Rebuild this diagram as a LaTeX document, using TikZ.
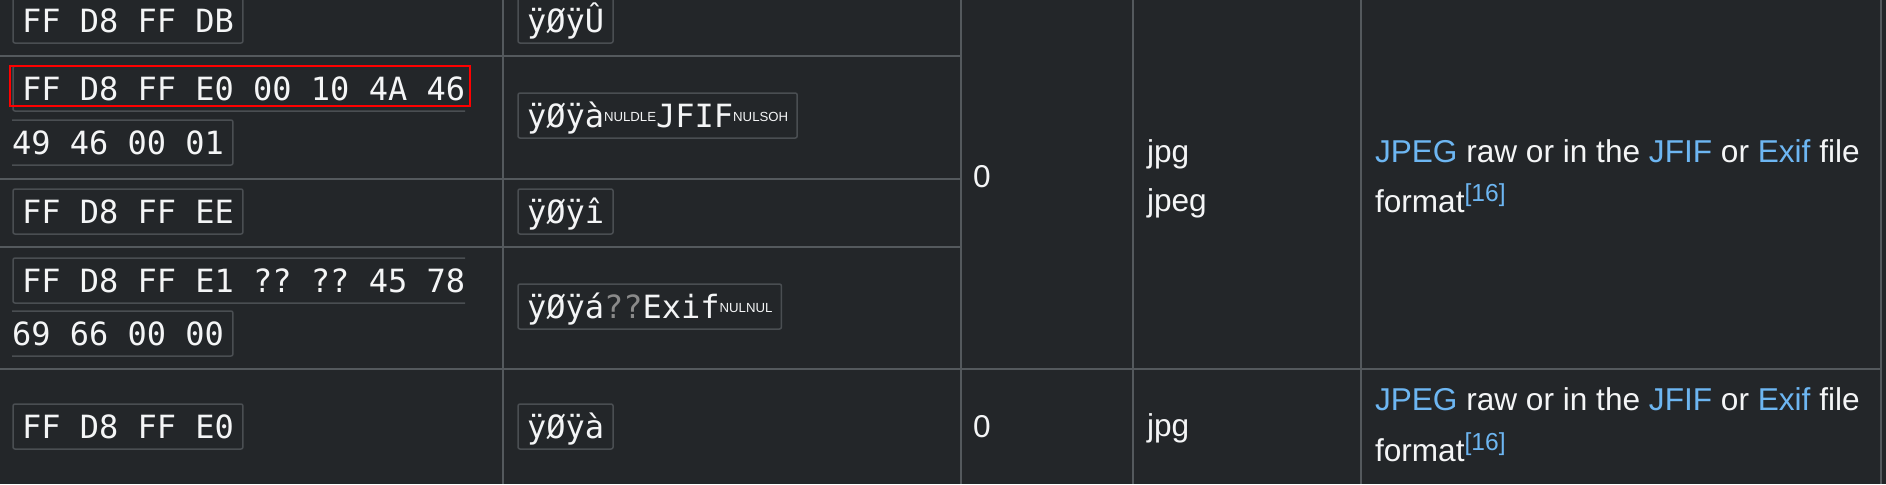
\documentclass[tikz,border=0pt]{standalone}
\usepackage{fontspec}
\setmainfont{Liberation Sans}
\setmonofont{DejaVu Sans Mono}
\newfontfamily\ctlfont{Liberation Sans}

\definecolor{tablebg}{HTML}{232629}
\definecolor{rule}{HTML}{54595D}
\definecolor{codeframe}{HTML}{4A4E52}
\definecolor{ink}{HTML}{F4F5F6}
\definecolor{link}{HTML}{6DB6F2}
\definecolor{dimq}{HTML}{8A8A8A}

\newcommand\ctl[1]{\raisebox{2.6pt}{\ctlfont\fontsize{6.6}{6.6}\selectfont #1}}
\newcommand\lnk[1]{\textcolor{link}{#1}}
\newcommand\refmark[1]{\raisebox{5.2pt}{\fontsize{12.3}{12.3}\selectfont\color{link}#1}}

\tikzset{
  gridline/.style={draw=rule, line width=0.75pt},
  hex/.style={font=\ttfamily\fontsize{16}{16}\selectfont, text=ink, text height=14pt,
    text depth=2.5pt, inner ysep=3pt, inner xsep=4.5pt, outer sep=0pt, anchor=base west},
  hexbox/.style={hex, draw=codeframe, line width=0.75pt, rounded corners=1pt},
  hexpart/.style={hex, inner xsep=0pt},
  frame/.style={draw=codeframe, line width=0.75pt, rounded corners=1pt},
  marker/.style={draw=red, line width=1pt},
  cell/.style={font=\fontsize{15.8}{15.8}\selectfont, text=ink, inner sep=0pt,
    outer sep=0pt, anchor=base west},
}

\begin{document}
\begin{tikzpicture}[x=0.5pt,y=-0.5pt]
\useasboundingbox (0,0) rectangle (1886,484);
\clip (0,0) rectangle (1886,484);
\fill[tablebg] (0,0) rectangle (1886,484);
% Grid
\draw[gridline] (0,56) -- (961,56);
\draw[gridline] (0,179) -- (961,179);
\draw[gridline] (0,247) -- (961,247);
\draw[gridline] (0,369) -- (1881,369);
\foreach \x in {503,961,1133,1361,1881}
  \draw[gridline] (\x,0) -- (\x,484);

% Hex signatures
\node[hexbox] (hexa) at (13,32) {FF D8 FF DB};
\node[hexpart] (hexb1) at (22,100) {FF D8 FF E0 00 10 4A 46};
\node[hexpart] (hexb2) at (12,154) {49 46 00 01};
\draw[frame] (hexb1.north east) -- ([xshift=-4.5pt]hexb1.north west)
  -- ([xshift=-4.5pt]hexb1.south west) -- (hexb1.south east);
\draw[frame] (hexb2.north west) -- ([xshift=4.5pt]hexb2.north east)
  -- ([xshift=4.5pt]hexb2.south east) -- (hexb2.south west);
\draw[marker] ([xshift=-5.85pt]hexb1.north west) rectangle ([xshift=2.35pt,yshift=2.65pt]hexb1.south east);
\node[hexbox] (hexc) at (13,223) {FF D8 FF EE};
\node[hexpart] (hexd1) at (22,292) {FF D8 FF E1 ?? ?? 45 78};
\node[hexpart] (hexd2) at (12,345) {69 66 00 00};
\draw[frame] (hexd1.north east) -- ([xshift=-4.5pt]hexd1.north west)
  -- ([xshift=-4.5pt]hexd1.south west) -- (hexd1.south east);
\draw[frame] (hexd2.north west) -- ([xshift=4.5pt]hexd2.north east)
  -- ([xshift=4.5pt]hexd2.south east) -- (hexd2.south west);
\node[hexbox] (hexe) at (13,438) {FF D8 FF E0};

% ISO 8859-1
\node[hexbox] (asca) at (518,32) {ÿØÿÛ};
\node[hexbox] (ascb) at (518,127) {ÿØÿà\ctl{NULDLE}JFIF\ctl{NULSOH}};
\node[hexbox] (ascc) at (518,223) {ÿØÿî};
\node[hexbox] (ascd) at (518,318) {ÿØÿá\textcolor{dimq}{??}Exif\ctl{NULNUL}};
\node[hexbox] (asce) at (518,438) {ÿØÿà};

% Offset, extension, description
\node[cell] (offa) at (973,187) {0};
\node[cell] (offe) at (973,437) {0};
\node[cell] (exta1) at (1147,162) {jpg};
\node[cell] (exta2) at (1147,211) {jpeg};
\node[cell] (exte) at (1147,436) {jpg};
\node[cell] (desca1) at (1375,162) {\lnk{JPEG} raw or in the \lnk{JFIF} or \lnk{Exif} file};
\node[cell] (desca2) at (1375,212) {format\refmark{[16]}};
\node[cell] (desce1) at (1375,410) {\lnk{JPEG} raw or in the \lnk{JFIF} or \lnk{Exif} file};
\node[cell] (desce2) at (1375,461) {format\refmark{[16]}};
\end{tikzpicture}
\end{document}
